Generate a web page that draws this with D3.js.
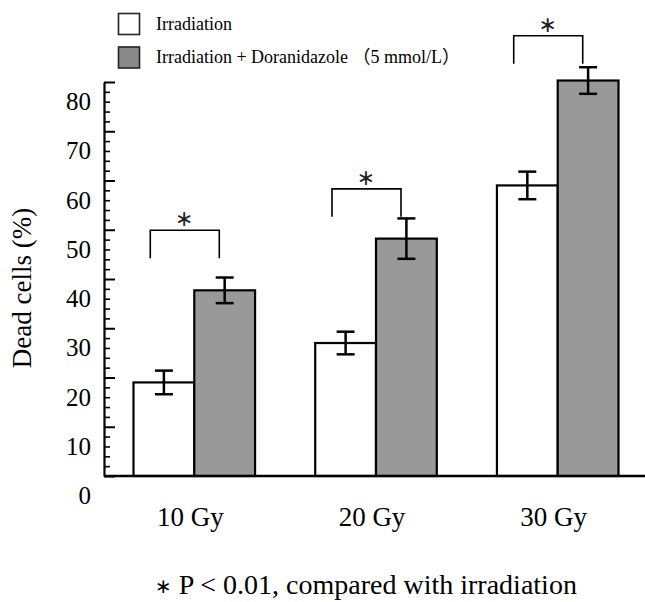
<!DOCTYPE html>
<html><head><meta charset="utf-8">
<script src="https://cdn.jsdelivr.net/npm/d3@7"></script>
<style>
body{margin:0;background:#fff}
svg{display:block}
text{font-family:"Liberation Serif","Times New Roman","Noto Sans CJK SC",serif;fill:#000}
</style>
</head><body>
<svg id="c" width="645" height="602"></svg>
<script>
// ---- data ----
const categories = ["10 Gy", "20 Gy", "30 Gy"];
const seriesNames = ["Irradiation", "Irradiation + Doranidazole （5 mmol/L）"];
const irradiation = [19.0, 27.0, 59.0];
const irradiationErr = [2.4, 2.3, 2.8];
const combined = [37.7, 48.2, 80.3];
const combinedErr = [2.6, 4.1, 2.7];
const sigLevels = [49.9, 58.3, 89.4];
const sigMark = "∗";
const yTicks = [0, 10, 20, 30, 40, 50, 60, 70, 80];
const yMinorTicks = d3.range(0, 81, 2).filter(v => v % 10 !== 0);
const yTitle = "Dead cells (%)";
const footnoteMark = "∗";
const footnoteText = " P < 0.01, compared with irradiation";

const fills = ["#ffffff", "#999999"];
const legendFills = ["#ffffff", "#8a8a8a"];

const svg = d3.select("#c");

const y = d3.scaleLinear().domain([0, 80]).range([476, 82]);
const x0 = d3.scaleBand().domain(categories).range([133.5, 618.5]).paddingInner(0.331).paddingOuter(0);
const x1 = d3.scaleBand().domain([0, 1]).range([0, x0.bandwidth()]).padding(0);

const rows = categories.map((c, i) => ({
  cat: c,
  vals: [
    {k: 0, v: irradiation[i], e: irradiationErr[i]},
    {k: 1, v: combined[i], e: combinedErr[i]}
  ],
  sig: sigLevels[i]
}));

// bars
const groups = svg.append("g").selectAll("g").data(rows).join("g")
  .attr("transform", d => `translate(${x0(d.cat)},0)`);

groups.selectAll("rect").data(d => d.vals).join("rect")
  .attr("x", d => x1(d.k))
  .attr("y", d => y(d.v))
  .attr("width", x1.bandwidth())
  .attr("height", d => y(0) - y(d.v))
  .attr("fill", d => fills[d.k])
  .attr("stroke", "#000")
  .attr("stroke-width", 2.2);

// error bars
const eb = groups.selectAll("g.err").data(d => d.vals).join("g").attr("class", "err")
  .attr("stroke", "#000").attr("stroke-width", 2.5);
eb.append("line")
  .attr("x1", d => x1(d.k) + x1.bandwidth() / 2).attr("x2", d => x1(d.k) + x1.bandwidth() / 2)
  .attr("y1", d => y(d.v + d.e)).attr("y2", d => y(d.v - d.e));
eb.append("line")
  .attr("x1", d => x1(d.k) + x1.bandwidth() / 2 - 9).attr("x2", d => x1(d.k) + x1.bandwidth() / 2 + 9)
  .attr("y1", d => y(d.v + d.e)).attr("y2", d => y(d.v + d.e));
eb.append("line")
  .attr("x1", d => x1(d.k) + x1.bandwidth() / 2 - 9).attr("x2", d => x1(d.k) + x1.bandwidth() / 2 + 9)
  .attr("y1", d => y(d.v - d.e)).attr("y2", d => y(d.v - d.e));

// significance brackets
groups.append("path")
  .attr("fill", "none").attr("stroke", "#000").attr("stroke-width", 1.6)
  .attr("d", d => {
    const c = x0.bandwidth() / 2, L = c - 44, R = c + 25, yh = y(d.sig);
    return `M${L},${yh + 28}V${yh}H${R}V${yh + 28}`;
  });
groups.append("text")
  .attr("x", x0.bandwidth() / 2 - 10)
  .attr("y", d => y(d.sig) - 4)
  .attr("text-anchor", "middle")
  .style("font-family", "DejaVu Sans")
  .style("font-size", "22px")
  .style("fill", "#222")
  .text(sigMark);

// y axis major
const yAxis = svg.append("g").attr("transform", "translate(104,0)")
  .call(d3.axisLeft(y).tickValues(yTicks).tickSizeInner(-11).tickSizeOuter(0).tickPadding(13).tickFormat(d3.format("d")));
yAxis.attr("font-family", null).attr("font-size", null);
yAxis.select(".domain").attr("stroke-width", 2.2);
yAxis.selectAll(".tick line").attr("stroke-width", 2);
yAxis.selectAll(".tick text")
  .attr("dy", "1.1em")
  .style("font-size", "25px");

// y axis minor
const yMinor = svg.append("g").attr("transform", "translate(104,0)")
  .call(d3.axisLeft(y).tickValues(yMinorTicks).tickSizeInner(-6).tickSizeOuter(0).tickFormat(""));
yMinor.select(".domain").remove();
yMinor.selectAll(".tick line").attr("stroke-width", 1.6);

// x axis
const xAxis = svg.append("g").attr("transform", `translate(0,${y(0)})`)
  .call(d3.axisBottom(x0).tickSize(0).tickPadding(31));
xAxis.attr("font-family", null).attr("font-size", null);
xAxis.select(".domain").attr("d", `M104,0H645`).attr("stroke-width", 2.4);
xAxis.selectAll(".tick text").attr("dx", -4).style("font-size", "27px");

// y title
svg.append("text")
  .attr("transform", "translate(31,288) rotate(-90)")
  .attr("text-anchor", "middle")
  .style("font-size", "27px")
  .text(yTitle);

// legend
const lg = svg.append("g").selectAll("g").data(seriesNames).join("g")
  .attr("transform", (d, i) => `translate(118.5,${13.5 + i * 33.5})`);
lg.append("rect").attr("width", 21).attr("height", 21)
  .attr("fill", (d, i) => legendFills[i]).attr("stroke", "#222").attr("stroke-width", 1.6);
lg.append("text").attr("x", 37.5).attr("y", 16).style("font-size", "18px").text(d => d);

// footnote
const fn = svg.append("text").attr("x", 155).attr("y", 594).style("font-size", "28px");
fn.append("tspan").style("font-family", "DejaVu Sans").style("font-size", "20px").attr("dy", -1).text(footnoteMark);
fn.append("tspan").attr("dy", 1).text(footnoteText);
</script>
</body></html>
